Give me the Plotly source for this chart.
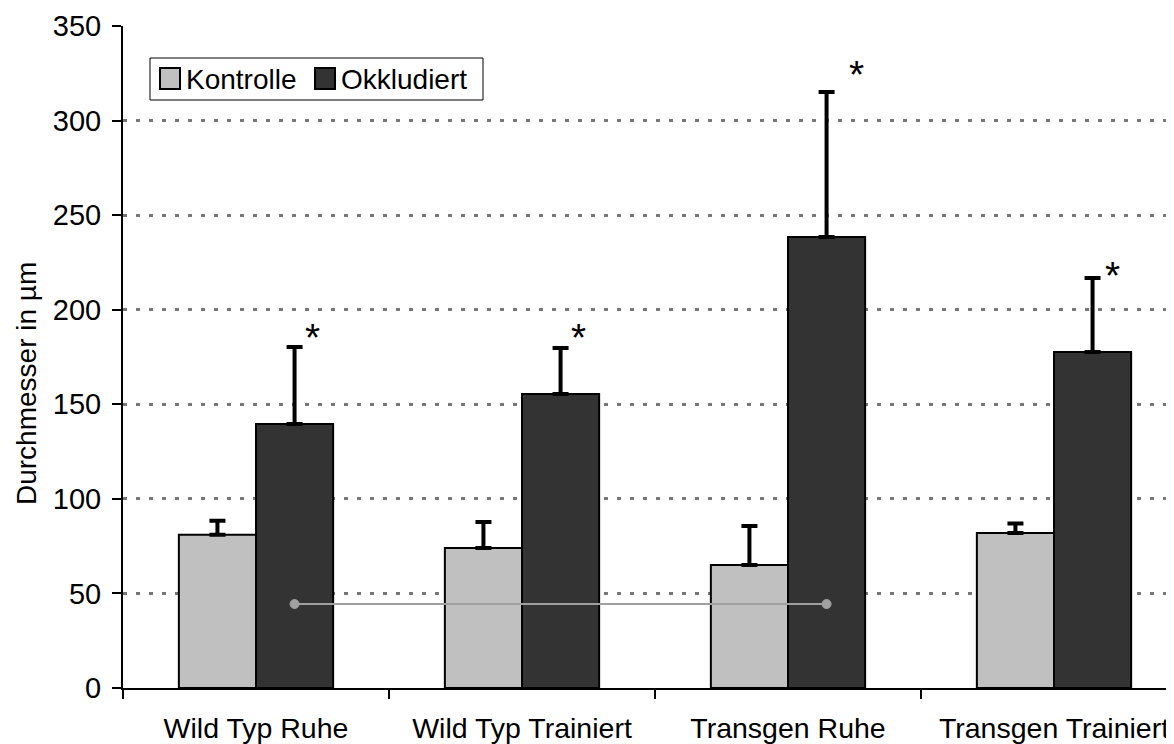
import plotly.graph_objects as go

categories = ["Wild Typ Ruhe", "Wild Typ Trainiert", "Transgen Ruhe", "Transgen Trainiert"]
series_names = ["Kontrolle", "Okkludiert"]
kontrolle = [81, 74, 65, 82]
kontrolle_err = [7.4, 13.8, 20.7, 5.0]
okkludiert = [139.6, 155.4, 238.4, 177.6]
okkludiert_err = [40.7, 24.4, 76.7, 39.2]
sig_marks = ["*", "*", "*", "*"]
sig_height = [189, 189, 328, 222]
compare_pair = [0, 2]
compare_y = 44.4
y_ticks = [0, 50, 100, 150, 200, 250, 300, 350]
y_title = "Durchmesser in µm"

FONT = "Liberation Sans, Arial, sans-serif"
OFF = 8  # page body margin
W, H = 1174 - OFF, 744 - OFF
L, T, B = 123 - OFF, 26 - OFF, 744 - 688
PW, PH = W - L, H - T - B
CAT_PX = 266
BARGAP = 0.42
half = (1 - BARGAP) / 4  # offset of each bar center from category center

def px_x(p):  # page pixel -> paper x
    return (p - OFF - L) / PW

def px_y(p):  # page pixel -> paper y
    return (H - B - (p - OFF)) / PH

fig = go.Figure()
for name, vals, errs, color in [
    (series_names[0], kontrolle, kontrolle_err, "#C0C0C0"),
    (series_names[1], okkludiert, okkludiert_err, "#333333"),
]:
    fig.add_trace(go.Bar(
        x=categories, y=vals, name=name,
        marker=dict(color=color, line=dict(color="black", width=2)),
        error_y=dict(type="data", array=errs, arrayminus=[0] * len(errs),
                     symmetric=False, color="black", thickness=4, width=8),
        showlegend=False,
    ))

shapes = []
xa, xb = compare_pair[0] + half, compare_pair[1] + half
shapes.append(dict(type="line", xref="x", yref="y", x0=xa, x1=xb, y0=compare_y, y1=compare_y,
                   line=dict(color="#A0A0A0", width=2)))
for xc in (xa, xb):
    shapes.append(dict(type="circle", xref="x", yref="y", xsizemode="pixel", ysizemode="pixel",
                       xanchor=xc, yanchor=compare_y, x0=-4.5, x1=4.5, y0=-4.5, y1=4.5,
                       fillcolor="#A0A0A0", line=dict(color="#A0A0A0", width=1)))

shapes.append(dict(type="rect", xref="paper", yref="paper", x0=px_x(150), x1=px_x(483),
                   y0=px_y(100), y1=px_y(58), line=dict(color="black", width=1), fillcolor="white"))
leg_items = [(160, "#C0C0C0", series_names[0]), (315, "#333333", series_names[1])]
annotations = []
for sx, col, name in leg_items:
    shapes.append(dict(type="rect", xref="paper", yref="paper", x0=px_x(sx), x1=px_x(sx + 20),
                       y0=px_y(89), y1=px_y(68), line=dict(color="black", width=2), fillcolor=col))
    annotations.append(dict(xref="paper", yref="paper", x=px_x(sx + 24), y=px_y(79),
                            text=name, showarrow=False, xanchor="left", yanchor="middle",
                            font=dict(family=FONT, size=28, color="black")))

star_dx = [18, 18, 30, 20]
for i, c in enumerate(categories):
    annotations.append(dict(x=c, y=sig_height[i], xref="x", yref="y", text=sig_marks[i],
                            showarrow=False, xanchor="center", yanchor="middle",
                            xshift=CAT_PX * half + star_dx[i], yshift=-7,
                            font=dict(family=FONT, size=39, color="black")))

annotations.append(dict(xref="paper", yref="paper", x=px_x(26), y=px_y(384), text=y_title,
                        textangle=-90, showarrow=False, xanchor="center", yanchor="middle",
                        borderpad=0, font=dict(family=FONT, size=28, color="black")))

fig.update_layout(
    width=W, height=H,
    margin=dict(l=L, r=0, t=T, b=B, autoexpand=False),
    barmode="group", bargap=BARGAP, bargroupgap=0,
    plot_bgcolor="white", paper_bgcolor="white",
    font=dict(family=FONT, size=29, color="black"),
    shapes=shapes, annotations=annotations,
    xaxis=dict(range=[-0.5, -0.5 + PW / CAT_PX], tickson="boundaries", ticks="outside",
               ticklen=9, tickwidth=2, tickcolor="black", showline=True, linecolor="black",
               linewidth=2, showgrid=False, ticklabelstandoff=14,
               tickfont=dict(family=FONT, size=28.5, color="black"), automargin=False),
    yaxis=dict(range=[0, 350], tickvals=y_ticks, ticks="outside", ticklen=9, tickwidth=2,
               tickcolor="black", showline=True, linecolor="black", linewidth=2,
               showgrid=True, gridcolor="#777777", gridwidth=3, griddash="4px,9px",
               zeroline=False, ticklabelstandoff=5,
               tickfont=dict(family=FONT, size=29, color="black"),
               automargin=False),
)

fig.write_html("out.html")
